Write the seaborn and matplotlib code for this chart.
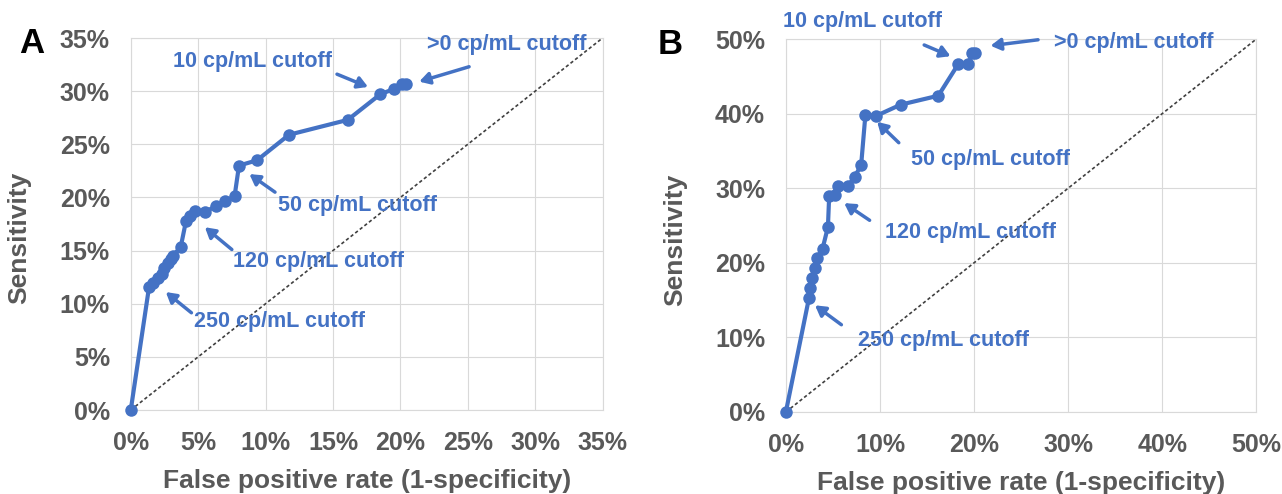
import numpy as np
import pandas as pd
import matplotlib
matplotlib.use("Agg")
import matplotlib.pyplot as plt
from matplotlib.ticker import PercentFormatter, MultipleLocator
import seaborn as sns

# ROC points, percent
fpr_a = [0, 1.36, 1.65, 2.0, 2.3, 2.5, 2.77, 3.0, 3.1, 3.7, 4.1, 4.4, 4.75, 5.5,
         6.3, 7.0, 7.7, 8.03, 9.37, 11.74, 16.1, 18.5, 19.5, 20.1, 20.45]
sens_a = [0, 11.6, 11.95, 12.4, 12.8, 13.4, 13.8, 14.2, 14.5, 15.3, 17.8, 18.3, 18.7, 18.6,
          19.2, 19.65, 20.1, 23.0, 23.5, 25.9, 27.3, 29.7, 30.2, 30.7, 30.7]

fpr_b = [0, 2.46, 2.6, 2.8, 3.06, 3.3, 3.9, 4.47, 4.6, 5.2, 5.5, 6.6, 7.3, 8.0,
         8.45, 9.6, 12.2, 16.2, 18.3, 19.4, 19.8, 20.1]
sens_b = [0, 15.3, 16.6, 17.9, 19.3, 20.6, 21.9, 24.8, 28.9, 29.1, 30.3, 30.3, 31.5, 33.1,
          39.8, 39.7, 41.2, 42.4, 46.6, 46.6, 48.1, 48.1]

cutoff_labels = [">0 cp/mL cutoff", "10 cp/mL cutoff", "50 cp/mL cutoff",
                 "120 cp/mL cutoff", "250 cp/mL cutoff"]

# label centre, arrow tail, arrow head (data units, %)
notes_a = [((27.9, 34.4), (25.1, 32.3), (21.4, 30.9)),
           ((9.05, 32.8), (15.3, 31.6), (17.6, 30.4)),
           ((16.8, 19.2), (10.7, 20.5), (8.8, 22.2)),
           ((13.9, 14.0), (7.5, 15.1), (5.5, 17.2)),
           ((11.0, 8.3), (4.5, 9.15), (2.6, 11.1))]
notes_b = [((37.0, 49.5), (26.8, 49.9), (21.75, 49.1)),
           ((8.1, 52.3), (14.7, 49.2), (17.5, 47.7)),
           ((21.75, 33.8), (12.0, 36.1), (9.7, 38.9)),
           ((19.6, 24.1), (8.9, 25.7), (6.2, 28.0)),
           ((16.7, 9.65), (5.9, 11.7), (3.1, 14.3))]

blue = "#4472C4"
grey = "#595959"

sns.set_style("whitegrid", {"grid.color": "#d9d9d9", "axes.edgecolor": "#d9d9d9"})
plt.rcParams["font.family"] = ["Liberation Sans", "DejaVu Sans"]

fig = plt.figure(figsize=(12.82, 4.94), dpi=100)
ax_a = fig.add_axes([0.102, 0.170, 0.368, 0.753])
ax_b = fig.add_axes([0.613, 0.166, 0.367, 0.755])


def draw(ax, fpr, sens, lim, step, notes, letter, letter_x, ylab_x):
    df = pd.DataFrame({"fpr": fpr, "sens": sens})
    ax.plot([0, lim], [0, lim], linestyle=(0, (2, 1.5)), color="#404040", lw=1.2, zorder=2)
    sns.lineplot(data=df, x="fpr", y="sens", sort=False, ax=ax, color=blue,
                 lw=3, marker="o", markersize=9, markeredgewidth=0, zorder=3,
                 clip_on=False)
    ax.set_xlim(0, lim)
    ax.set_ylim(0, lim)
    ax.xaxis.set_major_locator(MultipleLocator(step))
    ax.yaxis.set_major_locator(MultipleLocator(step))
    ax.xaxis.set_major_formatter(PercentFormatter(xmax=100, decimals=0))
    ax.yaxis.set_major_formatter(PercentFormatter(xmax=100, decimals=0))
    ax.tick_params(length=0, labelsize=18, labelcolor=grey, pad=15)
    for lab in ax.get_xticklabels() + ax.get_yticklabels():
        lab.set_fontweight("bold")
    ax.set_xlabel("False positive rate (1-specificity)", fontsize=19, fontweight="bold",
                  color=grey, labelpad=10)
    ax.set_ylabel("Sensitivity", fontsize=19, fontweight="bold", color=grey)
    ax.yaxis.set_label_coords(ylab_x, 0.462)
    for spine in ax.spines.values():
        spine.set_color("#d9d9d9")
    for text, (pos, tail, head) in zip(cutoff_labels, notes):
        ax.text(pos[0], pos[1], text, color=blue, fontsize=15.5, fontweight="bold",
                ha="center", va="center", clip_on=False)
        ax.annotate("", xy=head, xytext=tail, annotation_clip=False,
                    arrowprops=dict(arrowstyle="-|>,head_length=0.6,head_width=0.35",
                                    color=blue, lw=2.5, shrinkA=0, shrinkB=0))
    ax.text(letter_x, 0.985, letter, transform=ax.transAxes, fontsize=25, fontweight="bold",
            color="black", ha="center", va="center")


draw(ax_a, fpr_a, sens_a, 35, 5, notes_a, "A", -0.21, -0.21)
draw(ax_b, fpr_b, sens_b, 50, 10, notes_b, "B", -0.245, -0.209)

fig.savefig("out.png", dpi=100)
